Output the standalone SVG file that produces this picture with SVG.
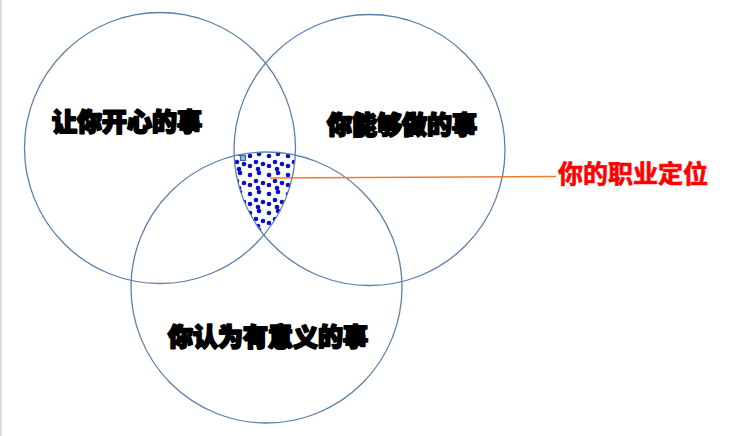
<svg xmlns="http://www.w3.org/2000/svg" width="755" height="436" viewBox="0 0 755 436">
<style>
.ring{fill:none;stroke:#5a80ab;stroke-width:1.3}
.lbl{font-family:"Noto Sans CJK SC","Noto Sans CJK TC",sans-serif;font-weight:900;font-size:25px;fill:#000;stroke:#000;stroke-width:2;stroke-linejoin:round;text-anchor:middle}
.red{font-family:"Noto Sans CJK SC","Noto Sans CJK TC",sans-serif;font-weight:700;font-size:25px;fill:#ff0000;stroke:#ff0000;stroke-width:0.7;stroke-linejoin:round;text-anchor:middle}
.d{fill:#0a0ad2}
</style>
<defs>
<pattern id="dots" x="0" y="0" width="19" height="19" patternUnits="userSpaceOnUse">
<circle class="d" cx="3" cy="4" r="2.3"/>
<circle class="d" cx="12" cy="2" r="2.3"/>
<circle class="d" cx="9" cy="10" r="2.3"/>
<circle class="d" cx="16" cy="12" r="2.3"/>
<circle class="d" cx="3" cy="14" r="2.3"/>
<circle class="d" cx="11" cy="17" r="2.3"/>
</pattern>
<clipPath id="c1"><circle cx="160" cy="148" r="135.5"/></clipPath>
<clipPath id="c2"><circle cx="369.5" cy="150" r="135.5"/></clipPath>
</defs>
<rect x="0" y="0" width="755" height="436" fill="#fff"/>
<line x1="1" y1="0" x2="1" y2="436" stroke="#dcdcdc" stroke-width="2"/>
<g id="overlap">
<g clip-path="url(#c1)"><g clip-path="url(#c2)">
<circle cx="266.5" cy="287.5" r="135.5" fill="url(#dots)"/>
</g></g>
<rect x="240.5" y="155.5" width="5" height="5" fill="#8fb0e0" stroke="#3a5fa8" stroke-width="1"/>
</g>
<g id="circle-happy">
<circle class="ring" cx="160" cy="148" r="135.5"/>
<text class="lbl" x="127" y="131">让你开心的事</text>
</g>
<g id="circle-can">
<circle class="ring" cx="369.5" cy="150" r="135.5"/>
<text class="lbl" x="402" y="134">你能够做的事</text>
</g>
<g id="circle-meaning">
<circle class="ring" cx="266.5" cy="287.5" r="135.5"/>
<text class="lbl" x="268" y="346">你认为有意义的事</text>
</g>
<g id="connectors">
<line x1="270" y1="178" x2="556" y2="176.5" stroke="#ed7d31" stroke-width="1.5"/>
</g>
<g id="career">
<text class="red" x="633" y="183">你的职业定位</text>
</g>
</svg>
